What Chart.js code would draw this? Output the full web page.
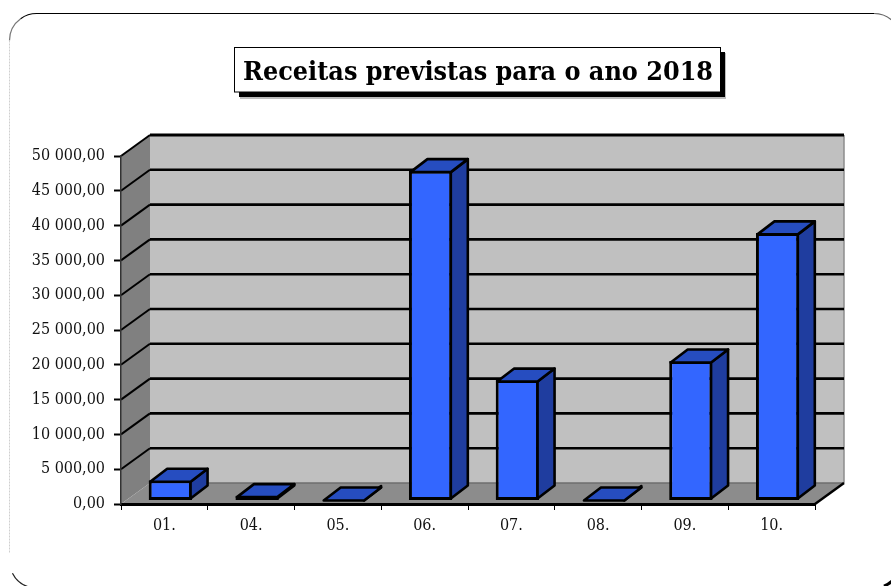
<!DOCTYPE html>
<html lang="pt">
<head>
<meta charset="utf-8">
<title>Receitas previstas para o ano 2018</title>
<script src="https://cdn.jsdelivr.net/npm/chart.js@4"></script>
<style>
    html, body { margin: 0; padding: 0; background: #fff; }
    #wrap { position: relative; width: 891px; height: 586px; overflow: hidden; }
</style>
</head>
<body>
<div id="wrap"><canvas id="receitas" width="891" height="586"></canvas></div>
<script>
const chartTitle = 'Receitas previstas para o ano 2018';
const categories = ['01.', '04.', '05.', '06.', '07.', '08.', '09.', '10.'];
const receitas = [2900, 700, 0, 47400, 17300, 0, 20050, 38450];
const yMax = 50000;
const yStep = 5000;

// profundidade do "3D" do fundo e das barras
const wallDx = 29, wallDy = 21;
const barDx = 17, barDy = 13;
const barShiftX = 6, barShiftY = 3.5;

function polygon(ctx, pts, fill, stroke, width) {
    ctx.beginPath();
    pts.forEach((p, i) => i ? ctx.lineTo(p[0], p[1]) : ctx.moveTo(p[0], p[1]));
    ctx.closePath();
    if (fill) { ctx.fillStyle = fill; ctx.fill(); }
    if (stroke) { ctx.strokeStyle = stroke; ctx.lineWidth = width; ctx.lineJoin = 'round'; ctx.stroke(); }
}

function line(ctx, x1, y1, x2, y2, color, width) {
    ctx.beginPath();
    ctx.moveTo(x1, y1);
    ctx.lineTo(x2, y2);
    ctx.strokeStyle = color;
    ctx.lineWidth = width;
    ctx.stroke();
}

// moldura arredondada, cortada pela direita e por baixo
function drawFrame(ctx) {
    const l = 9.5, t = 13.5, r = 901, b = 588, rad = 27;
    ctx.save();
    ctx.strokeStyle = '#777';
    ctx.lineWidth = 1.2;
    ctx.beginPath();
    ctx.arc(l + rad, t + rad, rad, Math.PI, Math.PI * 1.3);
    ctx.stroke();
    ctx.beginPath();
    ctx.arc(l + rad, t + rad, rad, Math.PI * 1.3, Math.PI * 1.5);
    ctx.lineTo(r - rad, t);
    ctx.strokeStyle = '#000';
    ctx.stroke();
    ctx.beginPath();
    ctx.arc(r - rad, t + rad, rad, Math.PI * 1.5, Math.PI * 1.75);
    ctx.strokeStyle = '#666';
    ctx.stroke();
    ctx.beginPath();
    ctx.arc(l + rad, b - rad, rad, Math.PI * 0.55, Math.PI * 0.85);
    ctx.strokeStyle = '#222';
    ctx.stroke();
    ctx.beginPath();
    ctx.arc(r - rad, b - rad, rad, Math.PI * 0.25, Math.PI * 0.38);
    ctx.strokeStyle = '#000';
    ctx.lineWidth = 3;
    ctx.stroke();
    ctx.setLineDash([2, 1]);
    line(ctx, l, t + rad, l, b - rad - 8, '#cfcfcf', 1);
    ctx.restore();
}

function drawTitle(ctx) {
    ctx.save();
    ctx.fillStyle = '#bdbdbd';
    ctx.fillRect(240, 53, 486, 46);
    ctx.fillStyle = '#000';
    ctx.fillRect(239, 52, 486, 45);
    ctx.fillStyle = '#fff';
    ctx.fillRect(234.5, 47.5, 486, 44.5);
    ctx.strokeStyle = '#000';
    ctx.lineWidth = 1;
    ctx.strokeRect(234.5, 47.5, 486, 44.5);
    ctx.fillStyle = '#000';
    ctx.font = 'bold 26.7px "DejaVu Serif Condensed", "DejaVu Serif"';
    ctx.textBaseline = 'alphabetic';
    ctx.textAlign = 'left';
    ctx.fillText(chartTitle, 243, 80);
    ctx.restore();
}

const chart3d = {
    id: 'chart3d',
    beforeDraw(chart) {
        const ctx = chart.ctx;
        const y = chart.scales.y;
        const a = chart.chartArea;
        drawFrame(ctx);
        drawTitle(ctx);
        const y0 = y.getPixelForValue(0), yTop = y.getPixelForValue(yMax);

        // parede esquerda, fundo e chao
        polygon(ctx, [[a.left, yTop], [a.left + wallDx, yTop - wallDy], [a.left + wallDx, y0 - wallDy], [a.left, y0]], '#808080');
        polygon(ctx, [[a.left + wallDx, yTop - wallDy], [a.right + wallDx, yTop - wallDy], [a.right + wallDx, y0 - wallDy], [a.left + wallDx, y0 - wallDy]], '#c0c0c0');
        polygon(ctx, [[a.left, y0], [a.left + wallDx, y0 - wallDy], [a.right + wallDx, y0 - wallDy], [a.right, y0]], '#8c8c8c');
        line(ctx, a.right + wallDx, yTop - wallDy, a.right + wallDx, y0 - wallDy, '#8c8c8c', 1.5);
        line(ctx, a.left + wallDx, y0 - wallDy, a.right + wallDx, y0 - wallDy, '#6e6e6e', 1.5);

        // linhas de grelha seguindo as paredes
        y.ticks.forEach(t => {
            if (t.value === 0) return;
            const py = y.getPixelForValue(t.value);
            line(ctx, a.left, py, a.left + wallDx, py - wallDy, '#000', 2);
            line(ctx, a.left + wallDx, py - wallDy, a.right + wallDx, py - wallDy, '#000', t.value === yMax ? 3 : 2.6);
        });
        line(ctx, a.right, y0, a.right + wallDx, y0 - wallDy, '#000', 2.5);
    },
    beforeDatasetsDraw(chart) {
        chart.ctx.save();
        chart.ctx.translate(barShiftX, -barShiftY);
    },
    afterDatasetsDraw(chart) {
        const ctx = chart.ctx;
        chart.getDatasetMeta(0).data.forEach(bar => {
            const p = bar.getProps(['x', 'y', 'width', 'base']);
            const l = p.x - p.width / 2 + 1.5, r = p.x + p.width / 2 - 1.5;
            const top = Math.min(p.y, p.base - 1.5) + 1.5, base = p.base - 1.5;
            polygon(ctx, [[r, top], [r + barDx, top - barDy], [r + barDx, base - barDy], [r, base]], '#1f3d9f', '#000', 2.6);
            polygon(ctx, [[l, top], [l + barDx, top - barDy], [r + barDx, top - barDy], [r, top]], '#264dc0', '#000', 2.6);
        });
        ctx.restore();
    }
};

new Chart(document.getElementById('receitas'), {
    type: 'bar',
    data: {
        labels: categories,
        datasets: [{
            data: receitas,
            backgroundColor: '#3366ff',
            borderColor: '#000',
            borderWidth: 3,
            borderSkipped: false,
            barPercentage: 0.5,
            categoryPercentage: 1,
            clip: false
        }]
    },
    options: {
        responsive: false,
        animation: false,
        layout: { padding: { top: 156, right: 76, bottom: 0, left: 0 } },
        plugins: { legend: { display: false }, tooltip: { enabled: false } },
        scales: {
            x: {
                afterFit(scale) { scale.height = 82; },
                grid: { drawOnChartArea: false, tickLength: 6, tickColor: '#000', tickWidth: 1 },
                border: { color: '#000', width: 3 },
                ticks: { color: '#111', padding: 6, maxRotation: 0, font: { family: 'DejaVu Serif Condensed, DejaVu Serif', size: 16 } }
            },
            y: {
                min: 0,
                max: yMax,
                afterFit(scale) { scale.width = 121; },
                grid: { drawOnChartArea: false, tickLength: 7, tickColor: '#000', tickWidth: 2 },
                border: { color: '#333', width: 1.5 },
                ticks: {
                    stepSize: yStep,
                    color: '#111',
                    padding: 9,
                    font: { family: 'DejaVu Serif Condensed, DejaVu Serif', size: 16 },
                    callback: v => v.toFixed(2).replace('.', ',').replace(/\B(?=(\d{3})+(?!\d))/, ' ')
                }
            }
        }
    },
    plugins: [chart3d]
});
</script>
</body>
</html>
